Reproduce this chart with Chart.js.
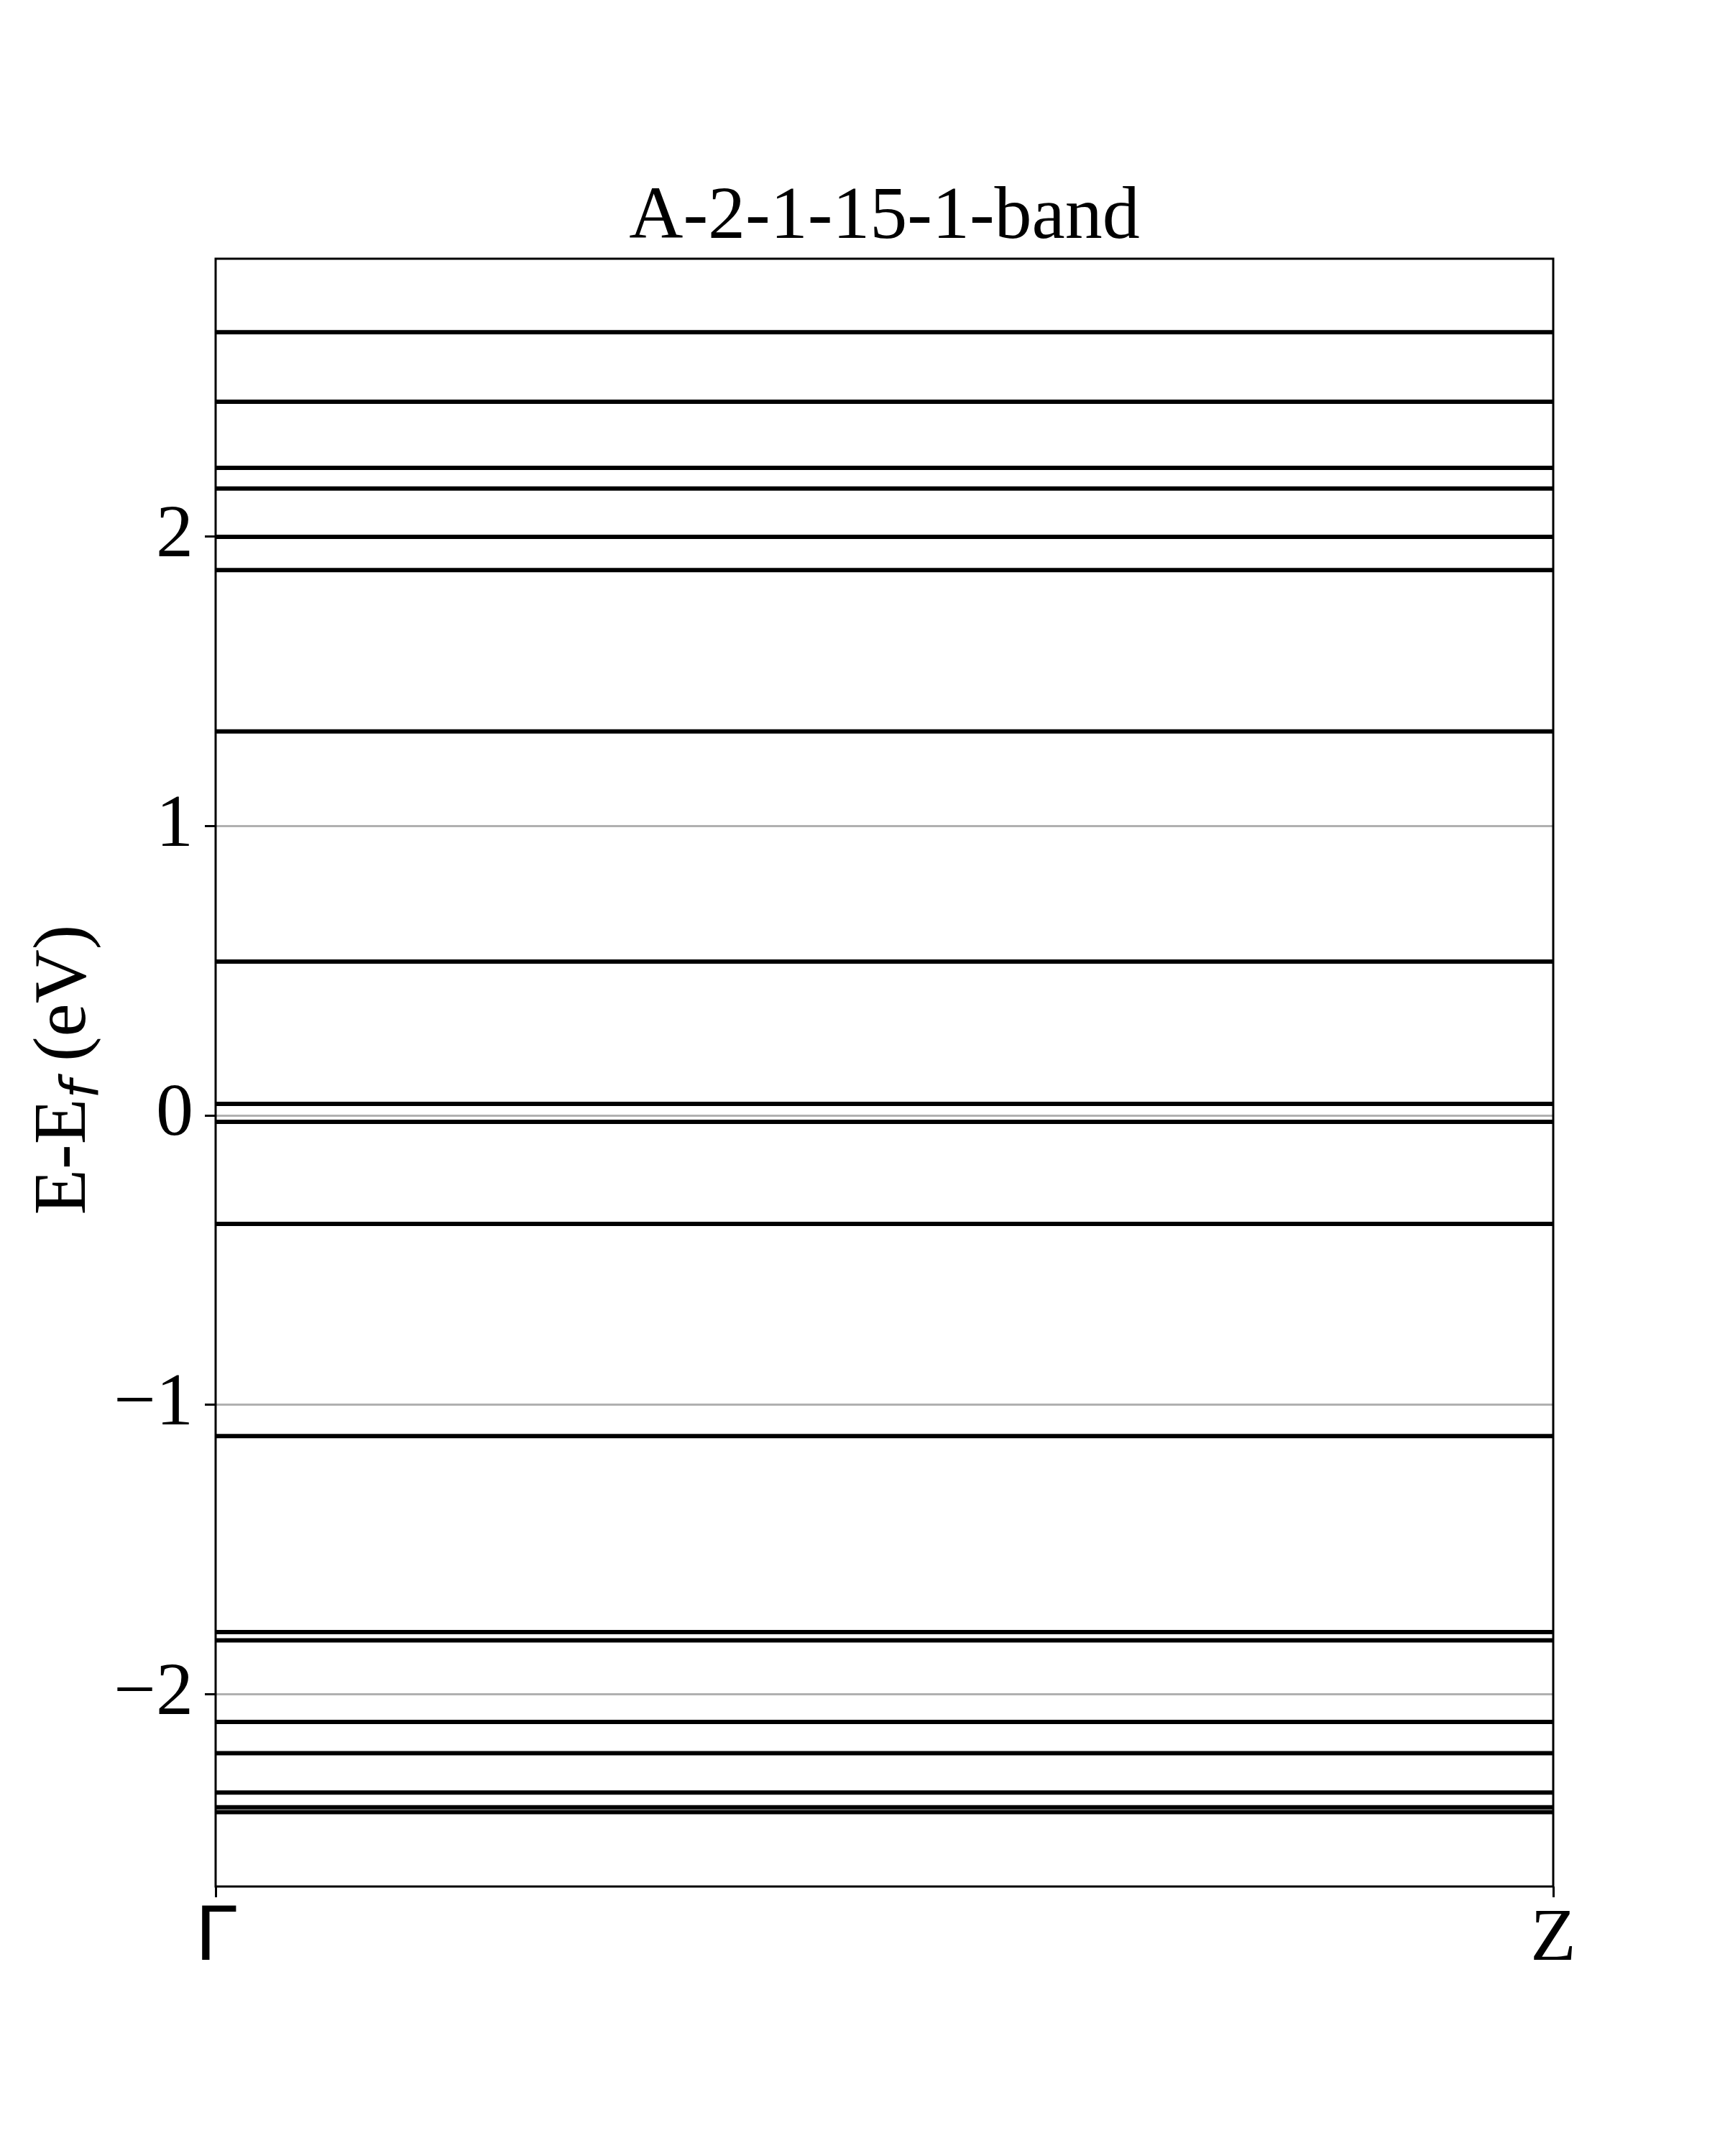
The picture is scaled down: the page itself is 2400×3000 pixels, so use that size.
<!DOCTYPE html>
<html>
<head>
<meta charset="utf-8">
<title>A-2-1-15-1-band</title>
<script src="https://cdn.jsdelivr.net/npm/chart.js@4.4.1/dist/chart.umd.min.js"></script>
<style>
  html, body { margin: 0; padding: 0; background: #fff; }
  #wrap { width: 2400px; height: 3000px; }
</style>
</head>
<body>
<div id="wrap"><canvas id="bandChart" width="2400" height="3000"></canvas></div>
<script>
const chartTitle = 'A-2-1-15-1-band';
const kLabels = ['Γ', 'Z'];
const kPositions = [0, 1];
const yTicks = [-2, -1, 0, 1, 2];
const yMin = -2.665;
const yMax = 2.961;
// band energies in eV (flat along Γ-Z)
const bandEnergies = [
  2.707, 2.467, 2.238, 2.167, 2.000, 1.885, 1.327, 0.532,
  0.040, -0.022, -0.375, -1.108,
  -1.786, -1.814, -2.096, -2.204, -2.340, -2.391, -2.408
];

const serif = 'Liberation Serif';

// box around the plot, like matplotlib spines
const framePlugin = {
  id: 'frame',
  afterDatasetsDraw(chart) {
    const { ctx, chartArea } = chart;
    ctx.save();
    ctx.strokeStyle = '#000';
    ctx.lineWidth = 3;
    ctx.strokeRect(chartArea.left, chartArea.top, chartArea.right - chartArea.left, chartArea.bottom - chartArea.top);
    ctx.restore();
  }
};

// y axis title with the subscript f
const yLabelPlugin = {
  id: 'yLabel',
  afterDraw(chart) {
    const { ctx, chartArea } = chart;
    const parts = [
      { text: 'E-E', font: '104px "' + serif + '"', dy: 0 },
      { text: 'f', font: 'italic 73px "DejaVu Sans"', dy: 19 },
      { text: ' (eV)', font: '104px "' + serif + '"', dy: 0 }
    ];
    ctx.save();
    let total = 0;
    parts.forEach(p => { ctx.font = p.font; p.w = ctx.measureText(p.text).width; total += p.w; });
    ctx.translate(chartArea.left - 182, (chartArea.top + chartArea.bottom) / 2 - 4);
    ctx.rotate(-Math.PI / 2);
    ctx.fillStyle = '#000';
    ctx.textBaseline = 'alphabetic';
    let x = -total / 2;
    parts.forEach(p => { ctx.font = p.font; ctx.fillText(p.text, x, p.dy); x += p.w; });
    ctx.restore();
  }
};

const datasets = bandEnergies.map((e, i) => ({
  label: 'band ' + (i + 1),
  data: kPositions.map(k => ({ x: k, y: e })),
  borderColor: '#000',
  borderWidth: 6,
  pointRadius: 0,
  fill: false
}));

const ctx = document.getElementById('bandChart').getContext('2d');
const bandChart = new Chart(ctx, {
  type: 'line',
  data: { datasets: datasets },
  plugins: [framePlugin, yLabelPlugin],
  options: {
    responsive: false,
    devicePixelRatio: 1,
    animation: false,
    layout: { padding: { left: 0, right: 239, top: 0, bottom: 0 } },
    plugins: {
      legend: { display: false },
      tooltip: { enabled: false },
      title: {
        display: true,
        text: chartTitle,
        fullSize: false,
        color: '#000',
        font: { family: serif, size: 104, weight: 'normal', lineHeight: 1 },
        padding: { top: 252, bottom: 4 }
      }
    },
    scales: {
      x: {
        type: 'linear',
        min: kPositions[0],
        max: kPositions[kPositions.length - 1],
        afterBuildTicks: scale => { scale.ticks = kPositions.map(v => ({ value: v })); },
        afterFit: scale => { scale.height = 375; },
        border: { display: false },
        grid: { drawOnChartArea: false, drawTicks: true, tickLength: 15, tickColor: '#000', tickWidth: 3 },
        ticks: {
          color: '#000',
          padding: 8,
          maxRotation: 0,
          autoSkip: false,
          callback: (v, i) => kLabels[i],
          font: c => ({ family: c.index === 0 ? 'DejaVu Sans' : serif, size: 104, lineHeight: 1 })
        }
      },
      y: {
        type: 'linear',
        min: yMin,
        max: yMax,
        afterBuildTicks: scale => { scale.ticks = yTicks.map(v => ({ value: v })); },
        afterFit: scale => { scale.width = 300; },
        border: { display: false },
        grid: { color: '#b0b0b0', lineWidth: 3, drawTicks: true, tickLength: 15, tickColor: '#000', tickWidth: 3 },
        ticks: {
          color: '#000',
          padding: 16,
          font: { family: serif, size: 104 },
          callback: v => v < 0 ? '\u2212' + Math.abs(v) : String(v)
        }
      }
    }
  }
});
</script>
</body>
</html>
